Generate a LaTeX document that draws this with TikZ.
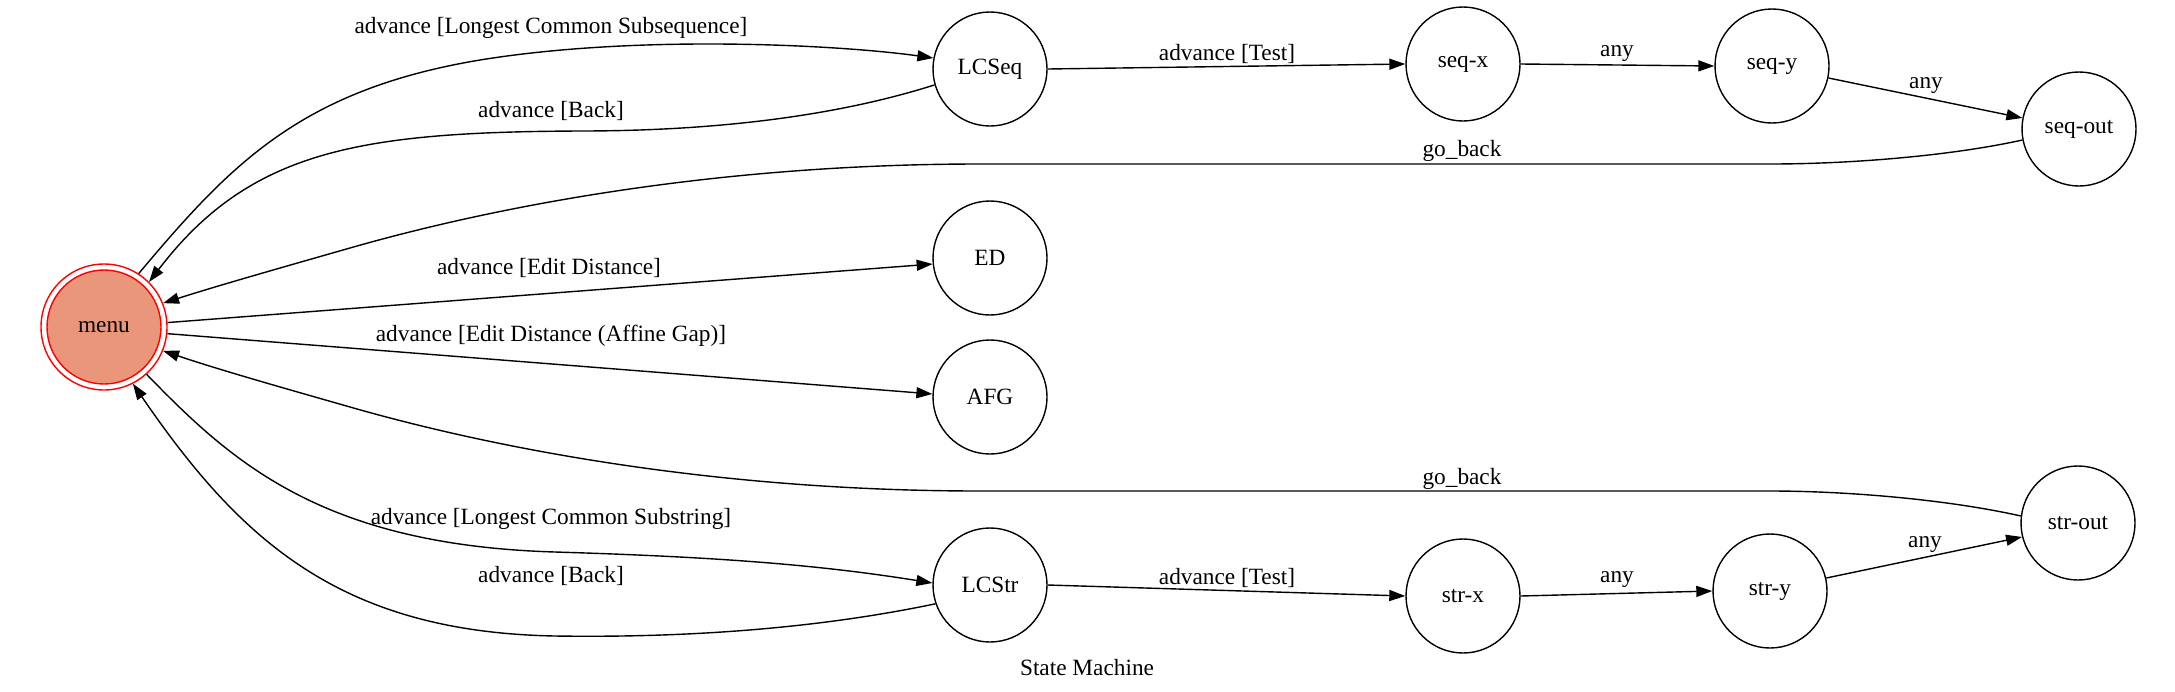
\documentclass[tikz,border=0pt]{standalone}
\usepackage{fontspec}
\setmainfont{Liberation Serif}
\newfontfamily\gvserif{Liberation Serif}
\usetikzlibrary{arrows.meta}
\definecolor{salmonfill}{HTML}{E9967A}
\begin{document}
\begin{tikzpicture}[x=1pt,y=-1pt,
  every node/.style={font=\gvserif\fontsize{23.3}{28}\selectfont},
  state/.style={circle,draw=black,line width=1.4pt,minimum size=114pt,inner sep=0pt},
  edge/.style={draw=black,line width=1.4pt,-{Triangle[length=16pt,width=11pt]}},
  lab/.style={inner sep=1pt}]
\useasboundingbox (0,0) rectangle (2175,691);
% nodes
\node[circle,draw=red,line width=1.4pt,minimum size=126pt,inner sep=0pt] (menu) at (104,327) {};
\node[circle,draw=red,fill=salmonfill,line width=1.4pt,minimum size=114pt,inner sep=0pt] (menuin) at (menu.center) {menu};
\node[state] (LCSeq) at (990,69) {LCSeq};
\node[state] (seqx) at (1463,64) {seq-x};
\node[state] (seqy) at (1772,66) {seq-y};
\node[state] (seqout) at (2079,129) {seq-out};
\node[state] (ED) at (990,258) {ED};
\node[state] (AFG) at (990,397) {AFG};
\node[state] (LCStr) at (990,585) {LCStr};
\node[state] (strx) at (1463,596) {str-x};
\node[state] (stry) at (1770,591) {str-y};
\node[state] (strout) at (2078,523) {str-out};
\node (title) at (1087,668) {State Machine};
% edges
\draw[edge] (menu.57) .. controls (230,165) and (300,90) .. (480,60) .. controls (640,34) and (840,45) .. (LCSeq.169)
  node[lab] at (551,28) {advance [Longest Common Subsequence]};
\draw[edge] (LCSeq.196) .. controls (840,115) and (720,131) .. (580,131) .. controls (360,132) and (250,150) .. (menu.45)
  node[lab] at (551,111) {advance [Back]};
\draw[edge] (LCSeq.east) -- (seqx.west) node[lab] at (1227,54) {advance [Test]};
\draw[edge] (seqx.east) -- (seqy.west) node[lab] at (1617,54) {any};
\draw[edge] (seqy.-12) -- (seqout.169) node[lab] at (1926,86) {any};
\draw[edge] (seqout.191) .. controls (1950,156) and (1850,164) .. (1770,164) -- (980,164) .. controls (720,164) and (500,205) .. (350,248) .. controls (280,268) and (220,285) .. (menu.22)
  node[lab] at (1462,151) {go\_back};
\draw[edge] (menu.4) -- (ED.186) node[lab] at (549,268) {advance [Edit Distance]};
\draw[edge] (menu.-6) -- (AFG.177) node[lab] at (551,336) {advance [Edit Distance (Affine Gap)]};
\draw[edge] (strout.173) .. controls (1950,500) and (1850,491) .. (1770,491) -- (980,491) .. controls (720,491) and (500,450) .. (350,407) .. controls (280,387) and (220,370) .. (menu.-22)
  node[lab] at (1462,479) {go\_back};
\draw[edge] (menu.-48) .. controls (230,460) and (320,545) .. (555,552) .. controls (720,557) and (820,565) .. (LCStr.178)
  node[lab] at (551,519) {advance [Longest Common Substring]};
\draw[edge] (LCStr.199) .. controls (820,628) and (690,638) .. (555,636) .. controls (340,632) and (240,540) .. (menu.-63)
  node[lab] at (551,576) {advance [Back]};
\draw[edge] (LCStr.east) -- (strx.west) node[lab] at (1227,578) {advance [Test]};
\draw[edge] (strx.east) -- (stry.west) node[lab] at (1617,580) {any};
\draw[edge] (stry.13) -- (strout.194) node[lab] at (1925,545) {any};
\end{tikzpicture}
\end{document}
